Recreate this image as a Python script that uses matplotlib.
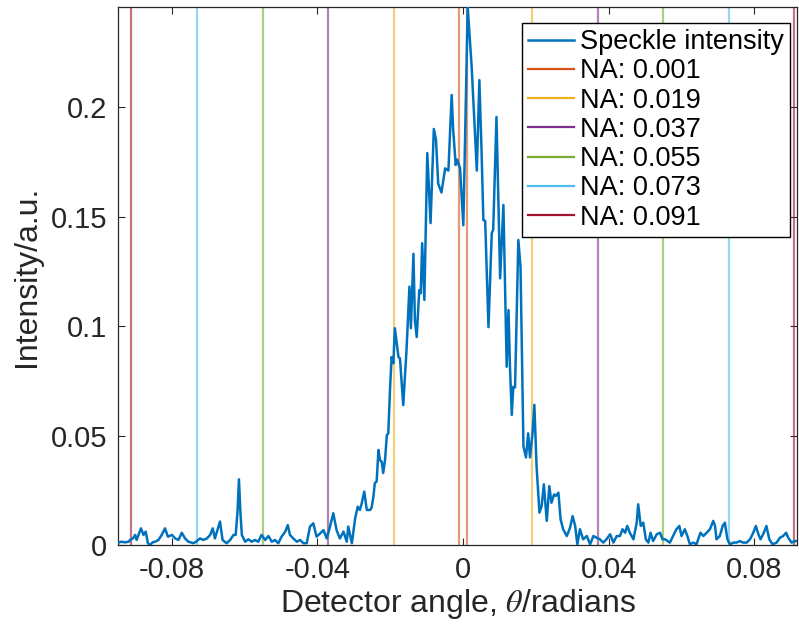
"""
Speckle intensity vs detector angle, with the NA cut-offs drawn as vertical lines.
"""
import numpy as np
import matplotlib
matplotlib.use("Agg")
import matplotlib.pyplot as plt

plt.rcParams["font.family"] = ["Liberation Sans", "DejaVu Sans"]
plt.rcParams["mathtext.fontset"] = "stix"
plt.rcParams["axes.unicode_minus"] = False

# ── data ─────────────────────────────────────────────────────
# left tail
angle_left = [-0.0947, -0.0938, -0.0928, -0.0918, -0.0914, -0.0906, -0.0900, -0.0896, -0.0890,
              -0.0884, -0.0877, -0.0871, -0.0865, -0.0859, -0.0852, -0.0845, -0.0836, -0.0827,
              -0.0818, -0.0810, -0.0799, -0.0790, -0.0781, -0.0772, -0.0763, -0.0754, -0.0747,
              -0.0740, -0.0733, -0.0722, -0.0713, -0.0703, -0.0694, -0.0687, -0.0681, -0.0671,
              -0.0667, -0.0660, -0.0649, -0.0639, -0.0630, -0.0624, -0.0619, -0.0615, -0.0611,
              -0.0607, -0.0598, -0.0589, -0.0580, -0.0571, -0.0562, -0.0553, -0.0543, -0.0534,
              -0.0525, -0.0516, -0.0507, -0.0498, -0.0488, -0.0481, -0.0475, -0.0466, -0.0456,
              -0.0447, -0.0438, -0.0429, -0.0420, -0.0411, -0.0402, -0.0392, -0.0383, -0.0374,
              -0.0365, -0.0356, -0.0347, -0.0338, -0.0328, -0.0319, -0.0315, -0.0305, -0.0296,
              -0.0289, -0.0283, -0.0278, -0.0271, -0.0264]
int_left = [0.0010, 0.0015, 0.0012, 0.0015, 0.0023, 0.0030, 0.0046, 0.0023, 0.0050,
            0.0076, 0.0046, 0.0061, 0.0008, 0.0000, 0.0012, 0.0015, 0.0023, 0.0046,
            0.0076, 0.0038, 0.0046, 0.0030, 0.0023, 0.0056, 0.0030, 0.0015, 0.0012,
            0.0008, 0.0015, 0.0030, 0.0023, 0.0030, 0.0046, 0.0076, 0.0030, 0.0084,
            0.0107, 0.0023, 0.0008, 0.0023, 0.0046, 0.0046, 0.0150, 0.0300, 0.0150,
            0.0046, 0.0015, 0.0026, 0.0015, 0.0023, 0.0015, 0.0046, 0.0023, 0.0041,
            0.0015, 0.0023, 0.0008, 0.0038, 0.0061, 0.0091, 0.0046, 0.0030, 0.0015,
            0.0023, 0.0008, 0.0008, 0.0084, 0.0099, 0.0038, 0.0053, 0.0068, 0.0030,
            0.0084, 0.0145, 0.0068, 0.0030, 0.0061, 0.0015, 0.0084, 0.0008, 0.0122,
            0.0175, 0.0160, 0.0190, 0.0244, 0.0160]

# central lobe
angle_core = [-0.0255, -0.0251, -0.0246, -0.0242, -0.0237, -0.0232, -0.0228, -0.0223, -0.0219,
              -0.0214, -0.0209, -0.0205, -0.0200, -0.0196, -0.0191, -0.0187, -0.0177, -0.0173,
              -0.0164, -0.0155, -0.0147, -0.0143, -0.0136, -0.0132, -0.0127, -0.0120, -0.0116,
              -0.0112, -0.0106, -0.0098, -0.0089, -0.0080, -0.0074, -0.0068, -0.0059, -0.0049,
              -0.0040, -0.0031, -0.0027, -0.0020, -0.0016, -0.0008, 0.0001, 0.0013, 0.0024,
              0.0038, 0.0045, 0.0051, 0.0056, 0.0061, 0.0070, 0.0079, 0.0083, 0.0092,
              0.0102, 0.0111, 0.0120, 0.0125, 0.0129, 0.0134, 0.0138, 0.0143, 0.0152,
              0.0158]
int_core = [0.0160, 0.0170, 0.0219, 0.0283, 0.0290, 0.0434, 0.0388, 0.0380, 0.0329,
            0.0388, 0.0502, 0.0510, 0.0722, 0.0858, 0.0830, 0.0990, 0.0858, 0.0853,
            0.0639, 0.0890, 0.1180, 0.0990, 0.1330, 0.1027, 0.0950, 0.1164, 0.1150,
            0.1378, 0.1119, 0.1790, 0.1470, 0.1900, 0.1850, 0.1650, 0.1610, 0.1720,
            0.1710, 0.2055, 0.1900, 0.1735, 0.1760, 0.1720, 0.1460, 0.2457, 0.2180,
            0.1710, 0.2123, 0.1800, 0.1484, 0.1480, 0.0995, 0.1424, 0.1440, 0.1955,
            0.1218, 0.1553, 0.0814, 0.1073, 0.0814, 0.0594, 0.0722, 0.0720, 0.1393,
            0.1270]

# right tail
angle_right = [0.0166, 0.0173, 0.0179, 0.0184, 0.0191, 0.0196, 0.0202, 0.0210, 0.0216,
               0.0222, 0.0230, 0.0237, 0.0243, 0.0250, 0.0255, 0.0262, 0.0268, 0.0275,
               0.0285, 0.0294, 0.0301, 0.0308, 0.0314, 0.0321, 0.0330, 0.0340, 0.0349,
               0.0358, 0.0367, 0.0376, 0.0385, 0.0394, 0.0404, 0.0413, 0.0422, 0.0431,
               0.0438, 0.0445, 0.0451, 0.0458, 0.0468, 0.0477, 0.0481, 0.0488, 0.0495,
               0.0502, 0.0509, 0.0515, 0.0522, 0.0532, 0.0541, 0.0548, 0.0555, 0.0568,
               0.0577, 0.0586, 0.0594, 0.0600, 0.0609, 0.0616, 0.0623, 0.0632, 0.0641,
               0.0652, 0.0660, 0.0669, 0.0678, 0.0687, 0.0692, 0.0696, 0.0705, 0.0713,
               0.0719, 0.0726, 0.0733, 0.0742, 0.0751, 0.0760, 0.0769, 0.0779, 0.0788,
               0.0797, 0.0804, 0.0811, 0.0817, 0.0826, 0.0833, 0.0841, 0.0850, 0.0861,
               0.0870, 0.0879, 0.0887, 0.0893, 0.0902, 0.0911, 0.0917]
int_right = [0.0450, 0.0400, 0.0510, 0.0400, 0.0513, 0.0640, 0.0360, 0.0148, 0.0178,
             0.0277, 0.0110, 0.0269, 0.0193, 0.0231, 0.0224, 0.0239, 0.0117, 0.0072,
             0.0041, 0.0079, 0.0132, 0.0087, 0.0003, 0.0072, 0.0026, 0.0041, 0.0003,
             0.0041, 0.0033, 0.0026, 0.0011, 0.0026, 0.0049, 0.0011, 0.0041, 0.0041,
             0.0072, 0.0056, 0.0087, 0.0056, 0.0026, 0.0102, 0.0186, 0.0087, 0.0102,
             0.0026, 0.0011, 0.0056, 0.0018, 0.0049, 0.0056, 0.0026, 0.0026, 0.0011,
             0.0041, 0.0072, 0.0087, 0.0041, 0.0072, 0.0041, 0.0003, 0.0011, 0.0003,
             0.0056, 0.0041, 0.0056, 0.0072, 0.0110, 0.0087, 0.0026, 0.0041, 0.0087,
             0.0102, 0.0026, 0.0003, 0.0011, 0.0011, 0.0018, 0.0011, 0.0011, 0.0026,
             0.0056, 0.0087, 0.0049, 0.0026, 0.0056, 0.0087, 0.0026, 0.0003, 0.0011,
             0.0033, 0.0041, 0.0056, 0.0033, 0.0011, 0.0018, 0.0018]

na_values = [0.001, 0.019, 0.037, 0.055, 0.073, 0.091]
# MATLAB default colour order
speckle_color = (0.0, 0.447, 0.741)
na_colors = [(0.850, 0.325, 0.098), (0.929, 0.694, 0.125), (0.494, 0.184, 0.556),
             (0.466, 0.674, 0.188), (0.301, 0.745, 0.933), (0.635, 0.078, 0.184)]

angle = np.array(angle_left + angle_core + angle_right)
intensity = np.array(int_left + int_core + int_right)

# ── figure ───────────────────────────────────────────────────
fig = plt.figure(figsize=(7.99, 6.25), dpi=100)
ax = fig.add_axes([0.1477, 0.128, 0.8498, 0.8608])

ax.plot(angle, intensity, color=speckle_color, lw=1.8, solid_joinstyle="round",
        label="Speckle intensity", zorder=3)
for na, c in zip(na_values, na_colors):
    ax.axvline(na, color=c, lw=1.6, alpha=0.6, label=f"NA: {na:.3f}", zorder=2)
    ax.axvline(-na, color=c, lw=1.6, alpha=0.6, zorder=2)

ax.set_xlim(-0.0947, 0.0917)
ax.set_ylim(0, intensity.max())
ax.set_xticks([-0.08, -0.04, 0, 0.04, 0.08])
ax.set_xticklabels(["-0.08", "-0.04", "0", "0.04", "0.08"])
ax.set_yticks([0, 0.05, 0.1, 0.15, 0.2])
ax.set_yticklabels(["0", "0.05", "0.1", "0.15", "0.2"])

dark = (0.15, 0.15, 0.15)
ax.tick_params(direction="in", top=True, right=True, length=5, width=0.8,
               labelsize=21, colors=dark, pad=8)
for s in ax.spines.values():
    s.set_color(dark)
    s.set_linewidth(0.9)

ax.set_xlabel(r"Detector angle, $\theta$/radians", fontsize=23, color=dark, labelpad=2)
ax.set_ylabel("Intensity/a.u.", fontsize=23, color=dark, labelpad=6)

leg = ax.legend(loc="upper right", bbox_to_anchor=(0.99, 0.97), fontsize=19.5,
                frameon=True, fancybox=False, framealpha=1, edgecolor="black",
                handlelength=1.7, handletextpad=0.25, labelspacing=0.12,
                borderpad=0.22, borderaxespad=0)
leg.get_frame().set_linewidth(1.0)
for h in leg.legend_handles:
    h.set_alpha(1)

fig.savefig("out.png", dpi=100)
